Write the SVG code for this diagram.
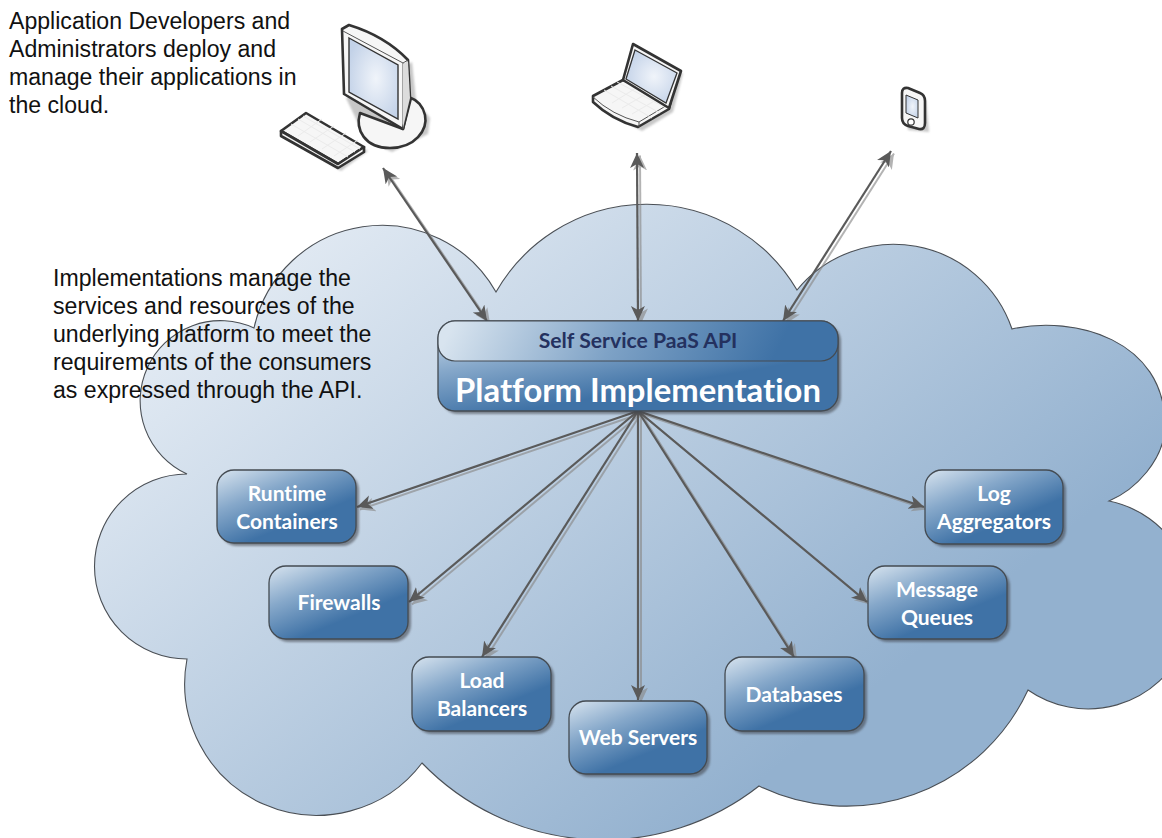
<svg xmlns="http://www.w3.org/2000/svg" width="1162" height="838" viewBox="0 0 1162 838">
<style>
.note{font-family:"Liberation Sans",Arial,sans-serif;font-size:23.1px;fill:#111}
.lbl{font-family:Lato,"Open Sans",sans-serif;font-weight:700;font-size:21px;fill:#fff;text-anchor:middle;font-variant-ligatures:none}
.box{fill:url(#nodeGrad);stroke:#444b52;stroke-width:1.3}
.shadow{fill:#3c4046;opacity:.55;filter:url(#soft)}
.wire{fill:none;stroke:#5a5a5a;stroke-width:2.2;marker-end:url(#head)}
.wire2{marker-start:url(#head)}
.wshadow{fill:none;stroke:#8b8b8b;stroke-width:2;opacity:.65;transform:translate(3px,2.5px);marker-end:url(#shead)}
.wshadow2{marker-start:url(#shead)}
.dev{stroke:#333;stroke-width:2.6;stroke-linejoin:round;fill:#f6f6f6}
.thin{stroke:#555;stroke-width:1;fill:none}
.key{stroke:#ebebeb;stroke-width:1;fill:none}
.dshadow{fill:#9a9a9a;opacity:.55;filter:url(#soft)}
</style>
<defs>
<linearGradient id="cloudGrad" gradientUnits="userSpaceOnUse" x1="220" y1="240" x2="700" y2="830">
<stop offset="0" stop-color="#e6edf5"/><stop offset="1" stop-color="#93b1cf"/>
</linearGradient>
<linearGradient id="nodeGrad" x1="0" y1="0" x2="0.78" y2="1">
<stop offset="0" stop-color="#d8e4ef"/><stop offset=".35" stop-color="#86a8ca"/><stop offset=".72" stop-color="#3f72a6"/><stop offset="1" stop-color="#3f72a6"/>
</linearGradient>
<linearGradient id="headGrad" gradientUnits="userSpaceOnUse" x1="480" y1="270" x2="780" y2="420">
<stop offset="0" stop-color="#d8e4ef"/><stop offset=".45" stop-color="#7ea2c6"/><stop offset=".9" stop-color="#3f72a6"/><stop offset="1" stop-color="#3f72a6"/>
</linearGradient>
<radialGradient id="screen" cx=".55" cy=".5" r=".6">
<stop offset="0" stop-color="#f0f4fa"/><stop offset="1" stop-color="#c3d2e8"/>
</radialGradient>
<filter id="soft" x="-20%" y="-20%" width="140%" height="140%"><feGaussianBlur stdDeviation="1"/></filter>
<marker id="head" markerUnits="userSpaceOnUse" markerWidth="20" markerHeight="16" refX="15" refY="7" orient="auto-start-reverse">
<path d="M15 7 L0 0 L4 7 L0 14 Z" fill="#5a5a5a"/>
</marker>
<marker id="shead" markerUnits="userSpaceOnUse" markerWidth="20" markerHeight="16" refX="15" refY="7" orient="auto-start-reverse">
<path d="M15 7 L0 0 L4 7 L0 14 Z" fill="#8b8b8b"/>
</marker>
</defs>

<g id="cloud">
<path d="M254 328 A131 131 0 0 1 496 292 A174 174 0 0 1 797 290 A125 125 0 0 1 1012 329 C1075 315 1165 340 1165 425 C1165 460 1135 490 1109 501 A105 105 0 1 1 1028 690 A200 200 0 0 1 759 786 A252 252 0 0 1 422 763 A132 132 0 0 1 187 659 A92.5 92.5 0 0 1 187 474 A78 78 0 1 1 254 328 Z" fill="url(#cloudGrad)" stroke="#4a4f55" stroke-width="1.1"/>
</g>

<g id="note-developers">
<text class="note" x="9" y="29">Application Developers and</text>
<text class="note" x="9" y="57">Administrators deploy and</text>
<text class="note" x="9" y="85">manage their applications in</text>
<text class="note" x="9" y="113">the cloud.</text>
</g>
<g id="note-implementations">
<text class="note" x="53" y="286">Implementations manage the</text>
<text class="note" x="53" y="314">services and resources of the</text>
<text class="note" x="53" y="342">underlying platform to meet the</text>
<text class="note" x="53" y="370">requirements of the consumers</text>
<text class="note" x="53" y="398">as expressed through the API.</text>
</g>

<g id="connectors">
<path class="wshadow wshadow2" d="M383 168 L487 321"/>
<path class="wshadow wshadow2" d="M637 153 L638 321"/>
<path class="wshadow wshadow2" d="M891 151 L783 321"/>
<path class="wshadow" d="M638 411 L357 507"/>
<path class="wshadow" d="M638 411 L409 602"/>
<path class="wshadow" d="M638 411 L482 657"/>
<path class="wshadow" d="M638 411 L638 700"/>
<path class="wshadow" d="M638 411 L794 657"/>
<path class="wshadow" d="M638 411 L867 602"/>
<path class="wshadow" d="M638 411 L924 507"/>
<path class="wire wire2" d="M383 168 L487 321"/>
<path class="wire wire2" d="M637 153 L638 321"/>
<path class="wire wire2" d="M891 151 L783 321"/>
<path class="wire" d="M638 411 L357 507"/>
<path class="wire" d="M638 411 L409 602"/>
<path class="wire" d="M638 411 L482 657"/>
<path class="wire" d="M638 411 L638 700"/>
<path class="wire" d="M638 411 L794 657"/>
<path class="wire" d="M638 411 L867 602"/>
<path class="wire" d="M638 411 L924 507"/>
</g>

<g id="desktop">
<path class="dshadow" d="M284 136 L308 116 L368 151 L341 171 Z"/>
<path class="dshadow" d="M412 62 L416 100 L430 118 L428 134 L392 152 L366 140 L346 98 Z"/>
<path class="dev" d="M360 113 C355 130 365 148 390 148 C415 148 428 130 425 115 C423 106 417 100 411 98 L403 129 Z"/>
<path class="dev" d="M342 29 L349 25 Q385 36 408 60 L410 98 L403 129 L344 94 Z"/>
<path class="thin" d="M343 31 L403 63 L408 60 M403 63 L403 129"/>
<path d="M403 64 L408 61 L410 98 L403 128 Z" fill="#dcdcdc"/>
<path d="M349 38 L398 65 L398 119 L349 92 Z" fill="url(#screen)" stroke="#333" stroke-width="1.4"/>
<path class="dev" d="M281 131 L306 113 L364 147 L338 164 Z"/>
<path class="dev" d="M281 131 L338 164 L364 147 L364 152 L338 168 L281 136 Z"/>
<path class="key" d="M291 124 L348 157 M298 119 L355 152 M303 116 L360 149 M298 136 L322 119 M310 142 L334 126 M322 149 L346 133 M334 156 L358 140"/>
</g>

<g id="laptop">
<path class="dshadow" d="M683 73 L673 112 L642 131 L600 108 L625 84 Z"/>
<path class="dev" d="M623 80 L593 96 L593 102 Q612 120 638 127 L669 109 L671 100 Z"/>
<path class="thin" d="M593 97 Q612 115 639 122 L639 127 M639 122 L669 104"/>
<path class="key" d="M604 90 L652 118 M611 86 L660 113 M617 82 L666 108 M612 103 L636 88 M622 108 L646 94 M632 114 L656 100"/>
<path class="dev" d="M633 44 L681 71 L669 108 L623 80 Z"/>
<path d="M635 50 L677 73 L666 103 L626 79 Z" fill="url(#screen)" stroke="#333" stroke-width="1.3"/>
</g>

<g id="phone">
<path class="dshadow" d="M905 92 L926 100 L929 132 L908 130 Z"/>
<path class="dev" d="M902 93 Q902 87 908 88 L920 93 Q925 95 925 101 L925 123 Q925 130 919 129 L908 126 Q902 124 902 118 Z"/>
<path d="M906 95 L918 100 L918 118 L906 113 Z" fill="url(#screen)" stroke="#333" stroke-width="1"/>
<circle cx="911" cy="122" r="3.2" fill="#fff" stroke="#333" stroke-width="1.2"/>
</g>

<g id="platform">
<rect class="shadow" x="441" y="324" width="400" height="90" rx="17"/>
<rect class="box" x="438" y="321" width="400" height="90" rx="17"/>
<rect x="438" y="321" width="400" height="40" rx="17" fill="url(#headGrad)" stroke="#444b52" stroke-width="1.2"/>
<text x="638" y="348" font-family="Lato,'Open Sans',sans-serif" font-weight="700" font-size="21.2" fill="#24315f" text-anchor="middle" style="font-variant-ligatures:none">Self Service PaaS API</text>
<text x="638" y="402" font-family="Lato,'Open Sans',sans-serif" font-weight="700" font-size="32.8" fill="#fff" text-anchor="middle" style="font-variant-ligatures:none">Platform Implementation</text>
</g>

<g id="runtime-containers">
<rect class="shadow" x="220" y="473" width="139" height="73" rx="17"/>
<rect class="box" x="217" y="470" width="139" height="73" rx="17"/>
<text class="lbl" x="287" y="501">Runtime</text>
<text class="lbl" x="287" y="529">Containers</text>
</g>
<g id="firewalls">
<rect class="shadow" x="272" y="569" width="139" height="73" rx="17"/>
<rect class="box" x="269" y="566" width="139" height="73" rx="17"/>
<text class="lbl" x="339" y="610">Firewalls</text>
</g>
<g id="load-balancers">
<rect class="shadow" x="415" y="660" width="139" height="74" rx="17"/>
<rect class="box" x="412" y="657" width="139" height="74" rx="17"/>
<text class="lbl" x="482" y="688">Load</text>
<text class="lbl" x="482" y="716">Balancers</text>
</g>
<g id="web-servers">
<rect class="shadow" x="572" y="704" width="138" height="73" rx="17"/>
<rect class="box" x="569" y="701" width="138" height="73" rx="17"/>
<text class="lbl" x="638" y="745">Web Servers</text>
</g>
<g id="databases">
<rect class="shadow" x="728" y="660" width="139" height="74" rx="17"/>
<rect class="box" x="725" y="657" width="139" height="74" rx="17"/>
<text class="lbl" x="794" y="702">Databases</text>
</g>
<g id="message-queues">
<rect class="shadow" x="871" y="569" width="139" height="73" rx="17"/>
<rect class="box" x="868" y="566" width="139" height="73" rx="17"/>
<text class="lbl" x="937" y="597">Message</text>
<text class="lbl" x="937" y="625">Queues</text>
</g>
<g id="log-aggregators">
<rect class="shadow" x="928" y="473" width="138" height="74" rx="17"/>
<rect class="box" x="925" y="470" width="138" height="74" rx="17"/>
<text class="lbl" x="994" y="501">Log</text>
<text class="lbl" x="994" y="529">Aggregators</text>
</g>
</svg>
